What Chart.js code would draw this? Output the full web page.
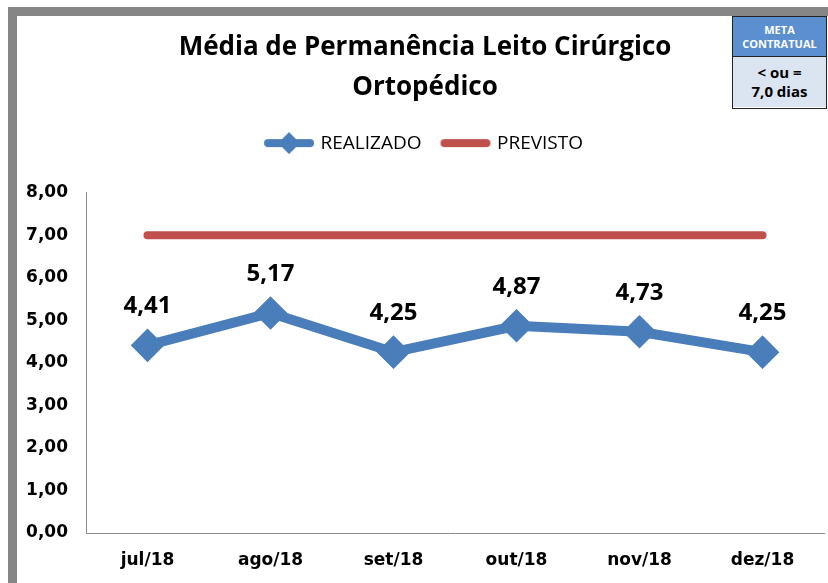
<!DOCTYPE html>
<html>
<head>
<meta charset="utf-8">
<script src="https://cdn.jsdelivr.net/npm/chart.js@4/dist/chart.umd.min.js"></script>
<style>
  html, body { margin: 0; padding: 0; background: #fff; }
  #wrap { position: relative; width: 828px; height: 583px; overflow: hidden; }
  #chart { position: absolute; left: 0; top: 0; }
  #frame { position: absolute; left: 8px; top: 7px; width: 830px; height: 570px;
           border-left: 9px solid #868686; border-top: 9px solid #868686; border-bottom: 6px solid #868686;
           pointer-events: none; }
  #meta { position: absolute; left: 732px; top: 16px; width: 93px; height: 91px;
          border: 1px solid #222; font-family: "Open Sans", sans-serif; font-weight: bold; text-align: center; }
  #meta .top { background: #5b8fd0; color: #fff; font-size: 11px; line-height: 14px; height: 40px;
               padding-top: 6px; box-sizing: border-box; border-bottom: 1px solid #222; }
  #meta .bot { background: #dbe5f1; color: #000; font-size: 15px; line-height: 19px; height: 50px;
               padding-top: 6px; box-sizing: border-box; }
</style>
</head>
<body>
<div id="wrap">
  <!-- canvas um pouco mais largo: o Chart.js reserva ~18px à direita -->
  <canvas id="chart" width="842" height="583"></canvas>
  <div id="frame"></div>
  <div id="meta">
    <div class="top">META<br>CONTRATUAL</div>
    <div class="bot">&lt; ou =<br>7,0 dias</div>
  </div>
</div>
<script>
const meses = ['jul/18', 'ago/18', 'set/18', 'out/18', 'nov/18', 'dez/18'];
const realizado = [4.41, 5.17, 4.25, 4.87, 4.73, 4.25];
const previsto = [7, 7, 7, 7, 7, 7];

const azul = '#4a7ebb';
const vermelho = '#c0504d';
const fonte = '"Open Sans", sans-serif';
const fonteEixo = '"DejaVu Sans", sans-serif';

// amostras da legenda (linha com losango / linha simples)
function amostra(cor, losango) {
    const c = document.createElement('canvas');
    c.width = 52; c.height = 22;
    const g = c.getContext('2d');
    g.strokeStyle = cor;
    g.lineWidth = 8;
    g.lineCap = 'round';
    g.beginPath(); g.moveTo(5, 11); g.lineTo(47, 11); g.stroke();
    if (losango) {
        g.fillStyle = cor;
        g.beginPath();
        g.moveTo(26, 0); g.lineTo(37, 11); g.lineTo(26, 22); g.lineTo(15, 11);
        g.closePath(); g.fill();
    }
    return c;
}
const imgRealizado = amostra(azul, true);
const imgPrevisto = amostra(vermelho, false);

const fmt = v => v.toFixed(2).replace('.', ',');

// rótulos de dados acima dos pontos
const rotulos = {
    id: 'rotulos',
    afterDatasetsDraw(chart) {
        const ctx = chart.ctx;
        const meta = chart.getDatasetMeta(0);
        ctx.save();
        ctx.font = 'bold 24px ' + fonte;
        ctx.fillStyle = '#000';
        ctx.textAlign = 'center';
        ctx.textBaseline = 'middle';
        meta.data.forEach((p, i) => {
            ctx.fillText(fmt(realizado[i]), p.x, p.y - 39);
        });
        ctx.restore();
    }
};

// espaço extra abaixo da legenda
const margemLegenda = {
    id: 'margemLegenda',
    beforeInit(chart) {
        const fit = chart.legend.fit;
        chart.legend.fit = function () {
            fit.bind(chart.legend)();
            this.height += 30;
        };
    }
};

const ctx = document.getElementById('chart').getContext('2d');
new Chart(ctx, {
    type: 'line',
    data: {
        labels: meses,
        datasets: [{
            label: 'REALIZADO', data: realizado,
            borderColor: azul, backgroundColor: azul, borderWidth: 10,
            pointStyle: 'rectRot', pointRadius: 14, pointBorderWidth: 4,
            pointBackgroundColor: azul, pointBorderColor: azul,
            fill: false, tension: 0, order: 1
        }, {
            label: 'PREVISTO', data: previsto,
            borderColor: vermelho, backgroundColor: vermelho, borderWidth: 8,
            borderCapStyle: 'round', pointRadius: 0,
            fill: false, tension: 0, order: 2
        }]
    },
    options: {
        responsive: false,
        animation: false,
        layout: { padding: { left: 8, right: 0, top: 16, bottom: 6 } },
        plugins: {
            title: {
                display: true,
                text: ['Média de Permanência Leito Cirúrgico', 'Ortopédico'],
                color: '#000',
                font: { family: fonte, size: 26, weight: 'bold', lineHeight: 1.55 },
                padding: { top: 11, bottom: 4 }
            },
            legend: {
                display: true,
                labels: {
                    usePointStyle: true, pointStyleWidth: 44, padding: 22, color: '#000',
                    font: { family: fonte, size: 19 },
                    generateLabels: () => [
                        { text: 'REALIZADO', pointStyle: imgRealizado, datasetIndex: 0, fontColor: '#000' },
                        { text: 'PREVISTO', pointStyle: imgPrevisto, datasetIndex: 1, fontColor: '#000' }
                    ]
                }
            },
            tooltip: { enabled: false }
        },
        scales: {
            x: {
                offset: true,
                grid: { display: false },
                border: { display: true, color: '#8c8c8c', width: 1 },
                ticks: { color: '#000', padding: 9, font: { family: fonteEixo, size: 17, weight: 'bold' } },
                afterFit(s) { s.height = 44; }
            },
            y: {
                min: 0, max: 8,
                grid: { display: false },
                border: { display: true, color: '#8c8c8c', width: 1 },
                ticks: {
                    stepSize: 1, padding: 10, color: '#000',
                    font: { family: fonteEixo, size: 17, weight: 'bold' },
                    callback: v => fmt(v)
                },
                afterFit(s) { s.width = 78; }
            }
        }
    },
    plugins: [rotulos, margemLegenda]
});
</script>
</body>
</html>
